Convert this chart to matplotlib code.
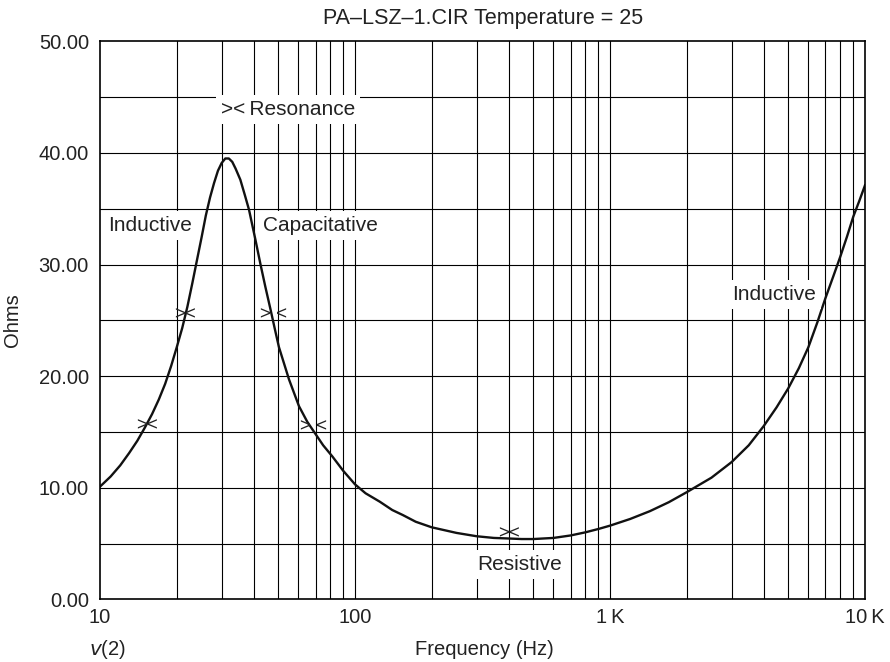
import matplotlib
matplotlib.use("Agg")
import matplotlib.pyplot as plt
from matplotlib.ticker import FixedLocator, NullFormatter

plt.rcParams['font.family'] = ['Liberation Sans', 'DejaVu Sans']

freq = [10, 11, 12, 13, 14, 15, 16, 17, 18, 19, 20, 21, 22, 23, 24, 25, 26, 27,
        28, 29, 30, 31, 32, 33, 34, 35.5, 37, 38.4, 40.7, 42.6, 44.5, 46.7, 48.5,
        50.3, 55.1, 60.3, 65, 69.1, 75, 81.5, 90, 100, 110, 125, 140, 154, 173,
        200, 250, 300, 350, 400, 450, 500, 600, 700, 800, 900, 1000, 1200, 1434,
        1700, 2000, 2500, 3000, 3500, 4000, 4500, 5000, 5500, 6000, 6500, 7000,
        7500, 8000, 8500, 9000, 9500, 10000]
ohms = [10.1, 11.0, 12.0, 13.1, 14.2, 15.4, 16.6, 17.9, 19.3, 20.9, 22.6, 24.3,
        26.2, 28.3, 30.4, 32.4, 34.4, 36.0, 37.3, 38.4, 39.1, 39.5, 39.5, 39.2,
        38.6, 37.6, 36.2, 34.9, 32.2, 30.0, 28.0, 25.9, 24.2, 22.6, 19.7, 17.3,
        15.9, 15.0, 13.8, 12.8, 11.5, 10.3, 9.5, 8.75, 8.0, 7.55, 6.95, 6.45,
        5.95, 5.65, 5.5, 5.45, 5.4, 5.4, 5.5, 5.72, 6.0, 6.3, 6.6, 7.2, 7.9, 8.7,
        9.6, 10.9, 12.3, 13.8, 15.5, 17.2, 18.9, 20.7, 22.6, 24.8, 27.0, 28.9,
        30.7, 32.5, 34.3, 35.7, 37.1]

marker_f = [15.3, 21.6, 48.1, 69.0, 400]
marker_z = [15.5, 25.5, 25.5, 15.5, 5.9]
marker_txt = ["><", "><", "> <", "> <", "><"]

labels = ["Inductive", "Capacitative", "Resistive", "Inductive"]
label_f = [15.7, 73.5, 444, 4383]
label_z = [33.5, 33.5, 3.1, 27.3]

y_ticks = [0, 10, 20, 30, 40, 50]
y_ticklabels = ["0.00", "10.00", "20.00", "30.00", "40.00", "50.00"]
x_ticks = [10, 100, 1000, 10000]
x_ticklabels = ["10", "100", "1\u2009K", "10\u2009K"]

FS = 14.5
TC = '#222222'

fig = plt.figure(figsize=(8.9, 6.62), dpi=100)
ax = fig.add_axes([0.1124, 0.0947, 0.8595, 0.8429])
ax.set_xscale('log')
ax.set_xlim(10, 10000)
ax.set_ylim(0, 50)

# grid
minor = [m * 10 ** e for e in range(1, 4) for m in range(2, 10)]
for f in minor + [100, 1000]:
    ax.axvline(f, color='black', lw=0.8, zorder=1)
for z in range(5, 50, 5):
    ax.axhline(z, color='black', lw=0.8, zorder=1)

ax.plot(freq, ohms, color='#111111', lw=1.7, zorder=3, solid_joinstyle='round')

for f, z, t in zip(marker_f, marker_z, marker_txt):
    ax.text(f, z, t, ha='center', va='center', fontsize=13.5, color=TC, zorder=4)

for f, z, t in zip(label_f, label_z, labels):
    ax.text(f, z, t, ha='center', va='center', fontsize=15, color=TC, zorder=4,
            bbox=dict(boxstyle='square,pad=0.25', fc='white', ec='none'))

ax.text(29.8, 43.9, "><\u2009Resonance", ha='left', va='center', fontsize=15, color=TC,
        zorder=4, bbox=dict(boxstyle='square,pad=0.25', fc='white', ec='none'))

ax.xaxis.set_major_locator(FixedLocator(x_ticks))
ax.xaxis.set_minor_locator(FixedLocator(minor))
ax.xaxis.set_minor_formatter(NullFormatter())
ax.set_xticks(x_ticks)
ax.set_xticklabels(x_ticklabels)
ax.set_yticks(y_ticks)
ax.set_yticklabels(y_ticklabels)
ax.tick_params(axis='both', which='both', length=0, labelsize=FS, colors=TC)
ax.tick_params(axis='x', pad=6)
ax.tick_params(axis='y', pad=8)

for s in ax.spines.values():
    s.set_linewidth(1.2)
    s.set_color('black')
    s.set_zorder(5)

fig.text(0.5425, 0.972, "PA\u2013LSZ\u20131.CIR Temperature = 25", ha='center', va='center',
         fontsize=15.5, color=TC)
fig.text(0.0135, 0.517, "Ohms", rotation=90, ha='center', va='center', fontsize=FS, color=TC)
fig.text(0.5445, 0.019, "Frequency (Hz)", ha='center', va='center', fontsize=FS, color=TC)
fig.text(0.121, 0.019, "$\\mathit{v}$(2)", ha='center', va='center', fontsize=FS, color=TC)

fig.savefig("out.png", dpi=100)
